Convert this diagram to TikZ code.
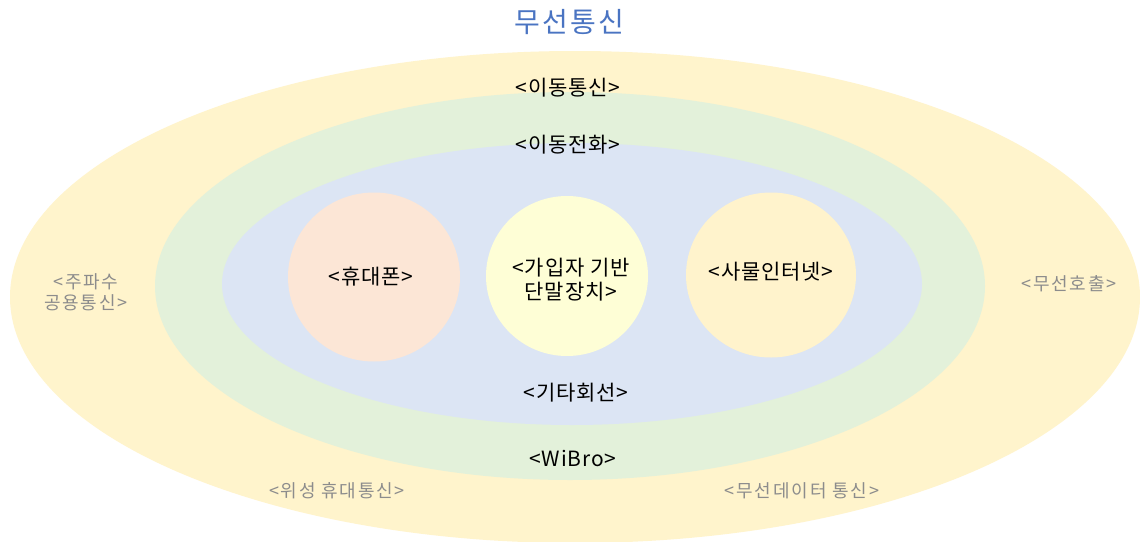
\documentclass[tikz,border=0pt]{standalone}
\usepackage{fontspec}
\setmainfont{Noto Sans CJK KR}
\newfontfamily\labfont[LetterSpace=4]{Noto Sans CJK KR}
\newfontfamily\gfont[LetterSpace=10]{Noto Sans CJK KR}
\newfontfamily\tfont[LetterSpace=8]{Noto Sans CJK KR}
\usetikzlibrary{shapes.geometric}
\definecolor{outerY}{HTML}{FFF4CC}
\definecolor{midG}{HTML}{E3F1DA}
\definecolor{innB}{HTML}{DCE5F4}
\definecolor{peach}{HTML}{FCE6D6}
\definecolor{paleY}{HTML}{FEFED6}
\definecolor{softY}{HTML}{FFF3CC}
\definecolor{titleB}{HTML}{4A74C2}
\definecolor{greyT}{HTML}{8C8C8C}
\tikzset{
  ring/.style={ellipse, draw=none, inner sep=0pt},
  blob/.style={ellipse, draw=none, inner sep=0pt},
  lab/.style={font=\labfont\fontsize{21}{24}\selectfont, text=black, align=center, inner sep=0pt},
  glab/.style={font=\gfont\fontsize{18}{21}\selectfont, text=greyT, align=center, inner sep=0pt},
}
\begin{document}
\begin{tikzpicture}[x=1pt,y=-1pt]
\useasboundingbox[fill=white] (0,0) rectangle (1140,541);
\node[ring, fill=outerY, minimum width=1130pt, minimum height=492pt] (outer) at (575,297) {};
\node[ring, fill=midG, minimum width=830pt, minimum height=388pt] (mid) at (570,286) {};
\node[ring, fill=innB, minimum width=700pt, minimum height=282pt] (inner) at (572,284) {};
\node[blob, fill=peach, minimum width=172pt, minimum height=169pt] (phone) at (374,277) {};
\node[blob, fill=paleY, minimum width=162pt, minimum height=160pt] (sub) at (567,276) {};
\node[blob, fill=softY, minimum width=170pt, minimum height=165pt] (iot) at (771,275) {};

\node[font=\tfont\fontsize{28}{32}\selectfont, text=titleB, inner sep=0pt] (title) at (569,22) {무선통신};
\node[lab] (mobile) at (568,88) {<이동통신>};
\node[lab] (mphone) at (568,145) {<이동전화>};
\node[lab] (other) at (576,393) {<기타회선>};
\node[lab] (wibro) at (573,458) {<WiBro>};
\node[lab] (phonet) at (371,277) {<휴대폰>};
\node[lab] (subt) at (571,280) {<가입자 기반\\단말장치>};
\node[lab] (iott) at (771,272) {<사물인터넷>};
\node[glab] (trs) at (86,292) {<주파수\\공용통신>};
\node[glab] (pager) at (1069,284) {<무선호출>};
\node[glab] (sat) at (337,491) {<위성 휴대통신>};
\node[glab] (data) at (802,491) {<무선데이터 통신>};
\end{tikzpicture}
\end{document}
